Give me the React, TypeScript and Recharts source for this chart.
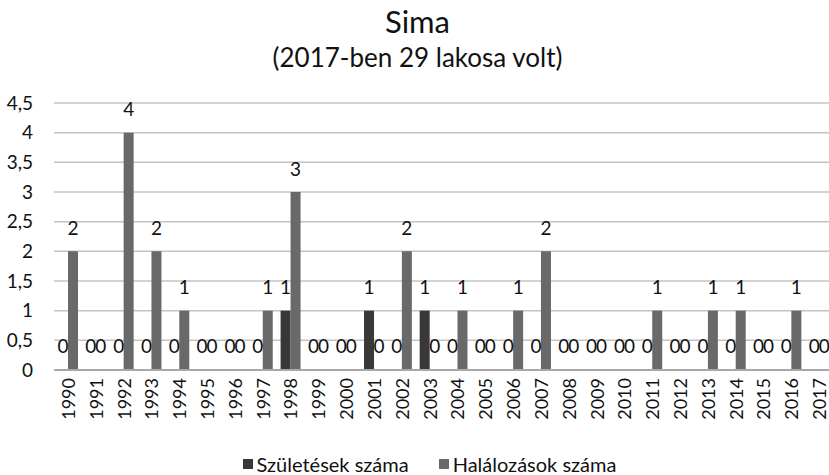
import React from 'react';
import { BarChart, Bar, XAxis, YAxis, CartesianGrid, LabelList } from 'recharts';

const years = ['1990','1991','1992','1993','1994','1995','1996','1997','1998','1999','2000','2001','2002','2003','2004','2005','2006','2007','2008','2009','2010','2011','2012','2013','2014','2015','2016','2017'];
const births = [0,0,0,0,0,0,0,0,1,0,0,1,0,1,0,0,0,0,0,0,0,0,0,0,0,0,0,0];
const deaths = [2,0,4,2,1,0,0,1,3,0,0,0,2,0,1,0,1,2,0,0,0,1,0,1,1,0,1,0];
const yTicks = [0,0.5,1,1.5,2,2.5,3,3.5,4,4.5];

const data = years.map((y, i) => ({ year: y, births: births[i], deaths: deaths[i] }));

const FONT = 'Lato, "Open Sans", sans-serif';
const BIRTH_COLOR = '#383838';
const DEATH_COLOR = '#696969';

const XTick = (props: any) => {
  const { x, y, payload } = props;
  return (
    <text x={x} y={y} transform={`rotate(-90, ${x}, ${y})`} textAnchor="end" dominantBaseline="central" fontSize={18} fontFamily={FONT} fill="#111">
      {payload.value}
    </text>
  );
};

const ValueLabel = (props: any) => {
  const { x, y, width, height, value } = props;
  const top = Math.min(Number(y), Number(y) + Number(height));
  return (
    <text x={Number(x) + Number(width) / 2} y={top - 24} textAnchor="middle" dominantBaseline="central" fontSize={19} fontFamily={FONT} fill="#111">
      {String(value)}
    </text>
  );
};

export default function App() {
  return (
    <div style={{ position: 'absolute', left: 0, top: 0, width: 829, height: 475, overflow: 'hidden', background: '#fff', fontFamily: FONT }}>
      <div style={{ position: 'absolute', left: 0, top: 2, width: 835, textAlign: 'center', fontSize: 31, color: '#111' }}>Sima</div>
      <div style={{ position: 'absolute', left: 0, top: 41, width: 835, textAlign: 'center', fontSize: 26, color: '#111' }}>(2017-ben 29 lakosa volt)</div>
      <BarChart width={835} height={450} data={data} margin={{ top: 103, right: 2, left: 0, bottom: 0 }} barGap={0} barSize={10}>
        <CartesianGrid vertical={false} stroke="#c4c4c4" strokeWidth={1.5} />
        <XAxis dataKey="year" interval={0} tickLine={false} tickSize={0} tickMargin={8} height={80} tick={<XTick />} axisLine={{ stroke: '#a8a8a8', strokeWidth: 2 }} />
        <YAxis domain={[0, 4.5]} ticks={yTicks} interval={0} width={54} axisLine={false} tickLine={false} tickSize={0} tickMargin={21}
          tickFormatter={(v: number) => String(v).replace('.', ',')}
          tick={{ fontSize: 19, fontFamily: FONT, fill: '#111' }} />
        <Bar dataKey="births" fill={BIRTH_COLOR} isAnimationActive={false} minPointSize={0.01}>
          <LabelList dataKey="births" content={<ValueLabel />} />
        </Bar>
        <Bar dataKey="deaths" fill={DEATH_COLOR} isAnimationActive={false} minPointSize={0.01}>
          <LabelList dataKey="deaths" content={<ValueLabel />} />
        </Bar>
      </BarChart>
      <div style={{ position: 'absolute', left: 12, top: 452, width: 835, display: 'flex', justifyContent: 'center', fontSize: 20, color: '#111' }}>
        <div style={{ display: 'flex', alignItems: 'center', marginRight: 30 }}>
          <span style={{ display: 'inline-block', width: 10, height: 10, background: BIRTH_COLOR, marginRight: 4 }} />Születések száma
        </div>
        <div style={{ display: 'flex', alignItems: 'center' }}>
          <span style={{ display: 'inline-block', width: 10, height: 10, background: DEATH_COLOR, marginRight: 4 }} />Halálozások száma
        </div>
      </div>
    </div>
  );
}
